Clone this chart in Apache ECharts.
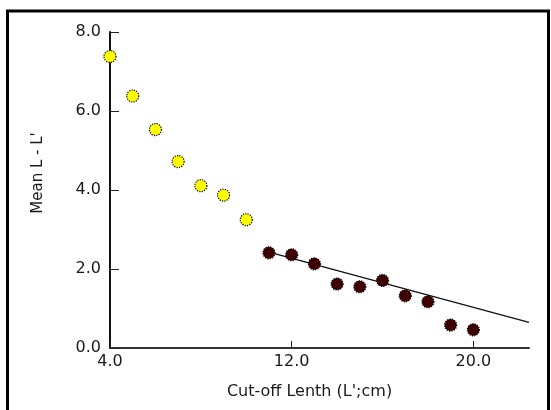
<!DOCTYPE html>
<html><head><meta charset="utf-8">
<script src="https://cdn.jsdelivr.net/npm/echarts@6/dist/echarts.min.js"></script>
<style>html,body{margin:0;padding:0;background:#fff}#c{width:551px;height:410px}</style>
</head><body><div id="c"></div>
<script>
const earlyX = [4, 5, 6, 7, 8, 9, 10];
const earlyY = [7.38, 6.38, 5.53, 4.72, 4.11, 3.87, 3.25];
const fitX = [11, 12, 13, 14, 15, 16, 17, 18, 19, 20];
const fitY = [2.41, 2.36, 2.13, 1.62, 1.55, 1.71, 1.32, 1.17, 0.58, 0.46];
const lineX = [11, 22.45];
const lineY = [2.43, 0.65];
const xTicks = [4, 12, 20];
const yTicks = [0, 2, 4, 6, 8];
const xName = "Cut-off Lenth (L';cm)";
const yName = "Mean L - L'";

const zip = (a, b) => a.map((v, i) => [v, b[i]]);
const font = 'DejaVu Sans';
const chart = echarts.init(document.getElementById('c'), null, {renderer: 'canvas'});
chart.setOption({
  animation: false,
  backgroundColor: '#fff',
  grid: {left: 110, right: 22, top: 32, bottom: 62},
  xAxis: {
    type: 'value', min: 4, max: 22.45,
    name: xName, nameLocation: 'middle', nameGap: 36,
    nameTextStyle: {fontFamily: font, fontSize: 16, color: '#1a1a1a', padding: [0, 20, 0, 0]},
    axisLine: {onZero: false, lineStyle: {color: '#333', width: 2}},
    axisTick: {inside: true, length: 7, customValues: xTicks, lineStyle: {color: '#222', width: 1}},
    axisLabel: {customValues: xTicks, margin: 6, fontFamily: font, fontSize: 16, color: '#1a1a1a',
      formatter: v => v.toFixed(1)},
    splitLine: {show: false}
  },
  yAxis: {
    type: 'value', min: 0, max: 8, interval: 2,
    name: yName, nameLocation: 'middle', nameGap: 64, nameRotate: 90,
    nameTextStyle: {fontFamily: font, fontSize: 15, color: '#1a1a1a', padding: [0, 0, 0, 34]},
    axisLine: {show: true, lineStyle: {color: '#111', width: 2}},
    axisTick: {show: true, inside: true, length: 9, lineStyle: {color: '#222', width: 1}},
    axisLabel: {margin: 9, fontFamily: font, fontSize: 16, color: '#1a1a1a',
      formatter: v => v.toFixed(1)},
    splitLine: {show: false}
  },
  graphic: [
    {type: 'rect', silent: true, z: 100,
      shape: {x: 7.5, y: 11, width: 541, height: 420},
      style: {fill: null, stroke: '#000', lineWidth: 3}}
  ],
  series: [
    {type: 'line', data: zip(lineX, lineY), symbol: 'none',
      lineStyle: {color: '#111', width: 1.3}, z: 2},
    {type: 'scatter', data: zip(earlyX, earlyY), symbol: 'circle', symbolSize: 12,
      itemStyle: {color: '#ffff00', opacity: 1, borderColor: '#000', borderWidth: 1.2, borderType: 'dotted'}, z: 3},
    {type: 'scatter', data: zip(fitX, fitY), symbol: 'circle', symbolSize: 12,
      itemStyle: {color: '#3f0000', opacity: 1, borderColor: '#000', borderWidth: 1.2, borderType: 'dotted'}, z: 3}
  ]
});
</script></body></html>
